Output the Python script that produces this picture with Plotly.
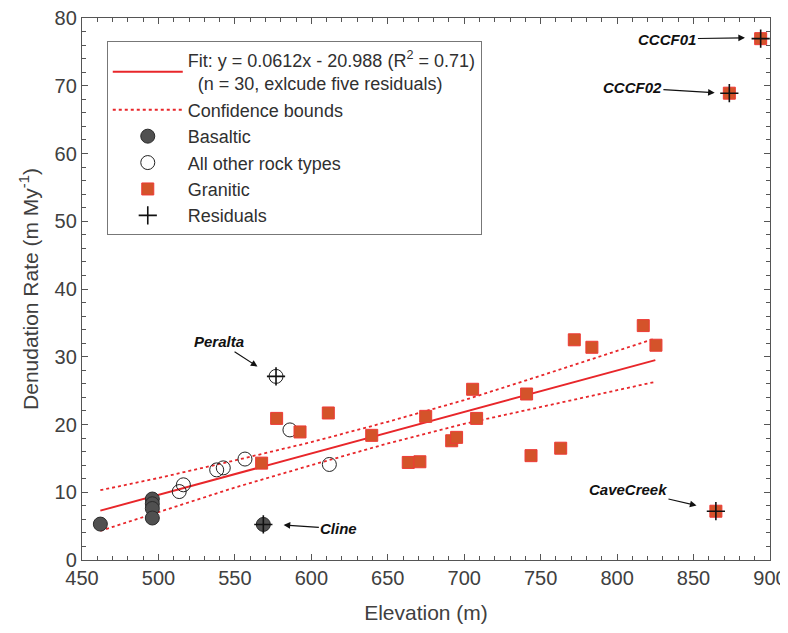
import plotly.graph_objects as go

# ---------------- data ----------------
basalt_x = [462, 496, 496, 496, 496, 568.6]
basalt_y = [5.3, 9.0, 8.3, 7.6, 6.2, 5.25]

other_x = [513.6, 516.3, 538.1, 542.4, 556.6, 586.0, 611.8, 576.9]
other_y = [10.1, 11.1, 13.3, 13.6, 14.9, 19.2, 14.1, 27.1]

granitic_x = [567.5, 577.3, 592.6, 611.1, 639.5, 674.8, 705.5, 708.1, 691.8, 695.0,
              663.4, 671.0, 740.8, 743.7, 763.1, 772.0, 783.5, 817.1, 825.4,
              893.9, 873.4, 864.6]
granitic_y = [14.3, 20.9, 18.9, 21.7, 18.4, 21.2, 25.2, 20.9, 17.6, 18.1,
              14.4, 14.5, 24.5, 15.4, 16.5, 32.5, 31.4, 34.6, 31.7,
              76.95, 68.9, 7.2]

resid_names = ["CCCF01", "CCCF02", "CaveCreek", "Peralta", "Cline"]
resid_x = [893.9, 873.4, 864.6, 576.9, 568.6]
resid_y = [76.95, 68.9, 7.2, 27.1, 5.25]

fit_x = [462, 825]
fit_y = [7.29, 29.50]

bound_x = [462, 500, 550, 600, 650, 700, 750, 800, 825]
upper_y = [10.3, 12.1, 14.7, 17.4, 20.4, 23.6, 27.2, 30.9, 32.7]
lower_y = [4.3, 7.1, 10.7, 14.0, 17.2, 20.1, 22.6, 25.1, 26.3]

x_ticks = [450, 500, 550, 600, 650, 700, 750, 800, 850, 900]
y_ticks = [0, 10, 20, 30, 40, 50, 60, 70, 80]

# annotation label centres and arrow heads (data units)
label_pos = {"CCCF01": (832.9, 76.9), "CCCF02": (810.0, 69.7),
             "CaveCreek": (807.1, 10.4), "Peralta": (539.6, 32.2),
             "Cline": (618.0, 4.6)}
arrow_head = {"CCCF01": (888.2, 77.1), "CCCF02": (868.4, 68.9),
              "CaveCreek": (856.4, 7.8), "Peralta": (568.6, 28.0),
              "Cline": (577.3, 5.25)}

# ---------------- figure ----------------
RED = "#e8262a"
FONT = "Liberation Sans, Arial, sans-serif"
TXT = "#404040"

fig = go.Figure()

fig.add_trace(go.Scatter(
    x=fit_x, y=fit_y, mode="lines", line=dict(color=RED, width=2),
    name="Fit: y = 0.0612x - 20.988 (R<sup>2</sup> = 0.71)<br>"
         "\u00a0\u00a0(n = 30, exlcude five residuals)"))

fig.add_trace(go.Scatter(
    x=bound_x + [None] + bound_x, y=upper_y + [None] + lower_y, mode="lines",
    line=dict(color=RED, width=1.8, dash="dot"), name="Confidence bounds",
    connectgaps=False))

fig.add_trace(go.Scatter(
    x=basalt_x, y=basalt_y, mode="markers", name="Basaltic",
    marker=dict(symbol="circle", size=14, color="#505050",
                line=dict(color="#2a2a2a", width=1))))

fig.add_trace(go.Scatter(
    x=other_x, y=other_y, mode="markers", name="All other rock types",
    marker=dict(symbol="circle-open", size=14, color="#222222",
                line=dict(color="#222222", width=1))))

fig.add_trace(go.Scatter(
    x=granitic_x, y=granitic_y, mode="markers", name="Granitic",
    marker=dict(symbol="square", size=12, color="#d4532a",
                line=dict(color="#ee3a36", width=1))))

fig.add_trace(go.Scatter(
    x=resid_x, y=resid_y, mode="markers", name="Residuals",
    marker=dict(symbol="cross-thin-open", size=13, color="#111111",
                line=dict(color="#111111", width=1.6))))

annotations = []
for n in resid_names:
    tx, ty = label_pos[n]
    hx, hy = arrow_head[n]
    annotations.append(dict(x=hx, y=hy, ax=tx, ay=ty, xref="x", yref="y",
                            axref="x", ayref="y", text=f"<b><i>{n}</i></b>",
                            showarrow=True, arrowhead=2, arrowsize=1.1,
                            arrowwidth=1.2, arrowcolor="#111111", standoff=7,
                            font=dict(family=FONT, size=15, color="#111111")))

axis_common = dict(showgrid=False, zeroline=False, showline=True, linecolor="#555555",
                   linewidth=1.3, mirror="ticks", ticks="inside", ticklen=6,
                   tickcolor="#555555", tickwidth=1.3, automargin=False,
                   ticklabeloverflow="allow",
                   tickfont=dict(family=FONT, size=20, color=TXT))

# the page adds an 8 px body margin, so the figure is 8 px smaller than the window
fig.update_layout(
    width=780, height=625,
    margin=dict(l=74, r=18, t=10, b=73),
    paper_bgcolor="white", plot_bgcolor="white",
    font=dict(family=FONT, color=TXT),
    showlegend=True,
    legend=dict(x=0.036, y=0.958, xanchor="left", yanchor="top",
                bgcolor="white", bordercolor="#777777", borderwidth=1,
                font=dict(family=FONT, size=18, color="#303030"),
                itemwidth=70, tracegroupgap=0),
    annotations=annotations,
    xaxis=dict(range=[450, 900], tickvals=x_ticks,
               minor=dict(dtick=10, ticks="inside", ticklen=3.5, tickcolor="#555555"),
               title=dict(text="Elevation (m)", font=dict(family=FONT, size=21, color=TXT),
                          standoff=17),
               **axis_common),
    yaxis=dict(range=[0, 80], tickvals=y_ticks,
               minor=dict(dtick=2, ticks="inside", ticklen=3.5, tickcolor="#555555"),
               title=dict(text="Denudation Rate (m My<sup>-1</sup>)",
                          font=dict(family=FONT, size=21, color=TXT), standoff=10),
               **axis_common),
)

fig.write_html("out.html")
